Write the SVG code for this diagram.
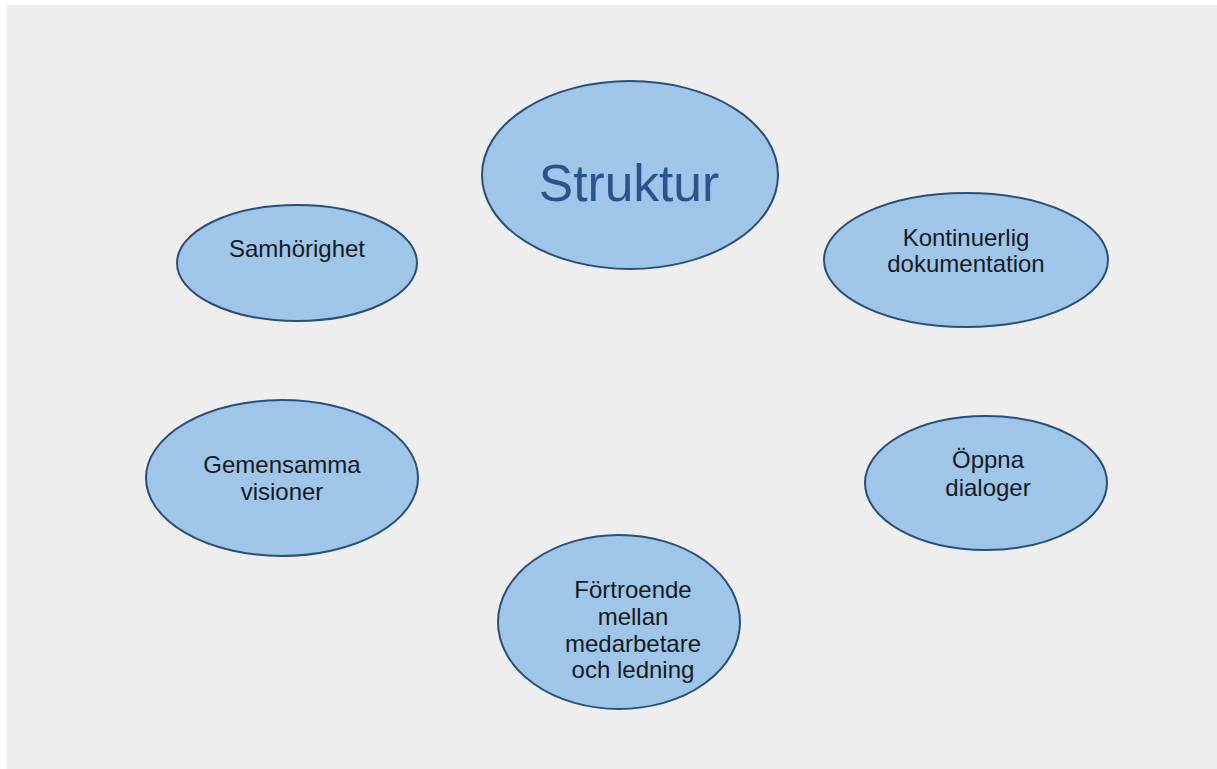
<svg xmlns="http://www.w3.org/2000/svg" width="1217" height="769" viewBox="0 0 1217 769">
  <style>
    .bubble { fill: #9fc5e8; stroke: #2a4f7a; stroke-width: 2; }
    .label { font-family: "Liberation Sans", Arial, sans-serif; font-size: 24px; fill: #141a22; text-anchor: middle; }
    .title { font-family: "Liberation Sans", Arial, sans-serif; font-size: 51.5px; fill: #2a5490; text-anchor: middle; }
  </style>
  <rect x="0" y="0" width="1217" height="769" fill="#ffffff"/>
  <rect x="7" y="5" width="1210" height="764" fill="#eeeeee"/>
  <g id="connectors"/>
  <g id="struktur">
    <ellipse class="bubble" cx="630" cy="175" rx="148" ry="94"/>
    <text class="title" x="629" y="201">Struktur</text>
  </g>
  <g id="samhorighet">
    <ellipse class="bubble" cx="297" cy="263" rx="120" ry="58"/>
    <text class="label" x="297" y="257">Samhörighet</text>
  </g>
  <g id="kontinuerlig-dokumentation">
    <ellipse class="bubble" cx="966" cy="260" rx="142" ry="67"/>
    <text class="label" x="966" y="246">Kontinuerlig</text>
    <text class="label" x="966" y="272">dokumentation</text>
  </g>
  <g id="gemensamma-visioner">
    <ellipse class="bubble" cx="282" cy="478" rx="136" ry="78"/>
    <text class="label" x="282" y="473">Gemensamma</text>
    <text class="label" x="282" y="500">visioner</text>
  </g>
  <g id="oppna-dialoger">
    <ellipse class="bubble" cx="986" cy="483" rx="121" ry="67"/>
    <text class="label" x="988" y="468">Öppna</text>
    <text class="label" x="988" y="496">dialoger</text>
  </g>
  <g id="fortroende">
    <ellipse class="bubble" cx="619" cy="622" rx="121" ry="87"/>
    <text class="label" x="633" y="598">Förtroende</text>
    <text class="label" x="633" y="625">mellan</text>
    <text class="label" x="633" y="652">medarbetare</text>
    <text class="label" x="633" y="678">och ledning</text>
  </g>
</svg>
